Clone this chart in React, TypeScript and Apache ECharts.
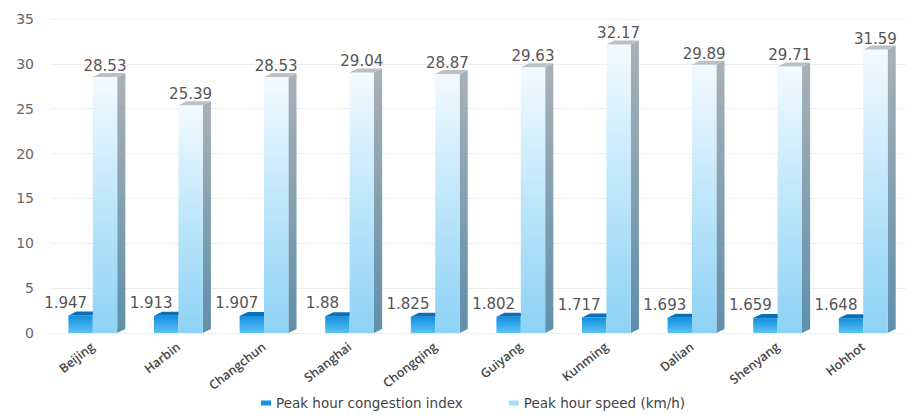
import React, { useEffect, useRef } from "react";
import * as echarts from "echarts";

const categories = ["Beijing", "Harbin", "Changchun", "Shanghai", "Chongqing", "Guiyang", "Kunming", "Dalian", "Shenyang", "Hohhot"];
const congestionIndex = [1.947, 1.913, 1.907, 1.88, 1.825, 1.802, 1.717, 1.693, 1.659, 1.648];
const peakSpeed = [28.53, 25.39, 28.53, 29.04, 28.87, 29.63, 32.17, 29.89, 29.71, 31.59];
const yTicks = { min: 0, max: 35, interval: 5 };

const FONT = "DejaVu Sans";

function makeRender(kind: "dark" | "light") {
  return (params: any, api: any) => {
    const idx = api.value(0);
    const val = api.value(1);
    const [cx, y0] = api.coord([idx, 0]);
    const [, y1] = api.coord([idx, val]);
    const bw = api.size([1, 0])[0];
    const w = bw * 0.285;
    const dx = bw * 0.095;
    const dy = -4;
    const left = kind === "dark" ? cx - w : cx;
    const right = left + w;
    const h = y0 - y1;
    const children: any[] = [];
    if (kind === "light") {
      children.push({
        type: "polygon",
        shape: { points: [[right, y1], [right + dx, y1 + dy], [right + dx, y0 + dy], [right, y0]] },
        style: {
          fill: { type: "linear", x: 0, y: 0, x2: 0, y2: 1, colorStops: [
            { offset: 0, color: "#a9b1b5" }, { offset: 1, color: "#5f8fab" }] },
        },
      });
      children.push({
        type: "rect",
        shape: { x: left, y: y1, width: w, height: h },
        style: {
          fill: { type: "linear", x: 0, y: 0, x2: 0, y2: 1, colorStops: [
            { offset: 0, color: "#f3faff" }, { offset: 0.45, color: "#c3e8fb" }, { offset: 1, color: "#8dd2f5" }] },
        },
      });
      children.push({
        type: "polygon",
        shape: { points: [[left, y1], [left + dx, y1 + dy], [right + dx, y1 + dy], [right, y1]] },
        style: { fill: "#bcc1c4" },
      });
      children.push({
        type: "text",
        style: { x: left + w / 2, y: y1 - 11, text: String(val), fill: "#555", font: `15px "${FONT}"`, align: "center", verticalAlign: "middle" },
      });
    } else {
      children.push({
        type: "rect",
        shape: { x: left, y: y1, width: w, height: h },
        style: {
          fill: { type: "linear", x: 0, y: 0, x2: 0, y2: 1, colorStops: [
            { offset: 0, color: "#128fdf" }, { offset: 1, color: "#5cc2f3" }] },
        },
      });
      children.push({
        type: "polygon",
        shape: { points: [[left, y1], [left + dx, y1 + dy], [right + dx, y1 + dy], [right, y1]] },
        style: { fill: "#0a6fb9" },
      });
      children.push({
        type: "text",
        style: { x: left + w / 2 - 15, y: y1 - 13, text: String(val), fill: "#555", font: `15px "${FONT}"`, align: "center", verticalAlign: "middle" },
      });
    }
    return { type: "group", children };
  };
}

export default function App() {
  const ref = useRef<HTMLDivElement>(null);
  useEffect(() => {
    if (!ref.current) return;
    const chart = echarts.init(ref.current, undefined, { renderer: "svg" });
    chart.setOption({
      animation: false,
      backgroundColor: "#ffffff",
      textStyle: { fontFamily: FONT },
      grid: { left: 50, right: 0, top: 19, bottom: 82, containLabel: false },
      legend: {
        bottom: 0,
        left: 256,
        itemWidth: 10,
        itemHeight: 5,
        itemGap: 46,
        icon: "rect",
        textStyle: { color: "#444", fontSize: 13.5, lineHeight: 14, fontFamily: FONT },
        data: ["Peak hour congestion index", "Peak hour speed (km/h)"],
      },
      xAxis: {
        type: "category",
        data: categories,
        axisLine: { show: false },
        axisTick: { show: false },
        axisLabel: { rotate: 38, color: "#444", fontSize: 12.5, fontWeight: 600, fontFamily: "Open Sans", margin: 12, interval: 0 },
      },
      yAxis: {
        type: "value",
        min: yTicks.min,
        max: yTicks.max,
        interval: yTicks.interval,
        axisLine: { show: false },
        axisTick: { show: false },
        axisLabel: { color: "#666", fontSize: 14, fontFamily: FONT, margin: 16 },
        splitLine: { lineStyle: { color: "#eeeeee" } },
      },
      series: [
        {
          name: "Peak hour congestion index",
          type: "custom",
          renderItem: makeRender("dark"),
          itemStyle: { color: "#1592e0" },
          encode: { x: 0, y: 1 },
          data: congestionIndex.map((v, i) => [i, v]),
          clip: false,
        },
        {
          name: "Peak hour speed (km/h)",
          type: "custom",
          renderItem: makeRender("light"),
          itemStyle: { color: "#a6defa" },
          encode: { x: 0, y: 1 },
          data: peakSpeed.map((v, i) => [i, v]),
          clip: false,
        },
      ],
    });
    return () => chart.dispose();
  }, []);
  return <div ref={ref} style={{ position: "fixed", left: 0, top: 0, width: 906, height: 415 }} />;
}
